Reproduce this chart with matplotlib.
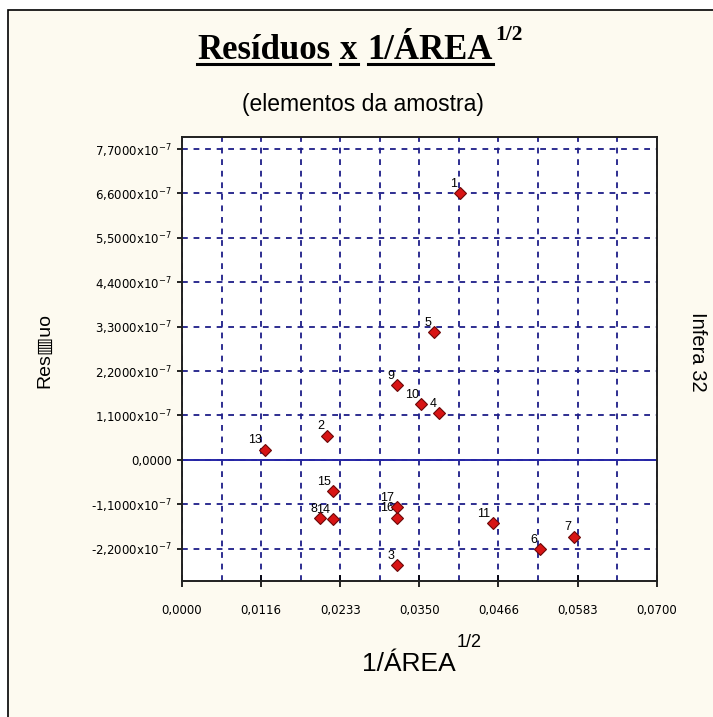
import matplotlib.pyplot as plt
import matplotlib.patches as mpatches
from matplotlib.lines import Line2D
from matplotlib.ticker import FixedLocator
import numpy as np

plt.rcParams['font.family'] = ['Liberation Sans', 'DejaVu Sans']

# elementos da amostra: 1/AREA^(1/2) x residuo
elementos = ['1', '2', '3', '4', '5', '6', '7', '8', '9', '10', '11', '13', '14', '15', '16', '17']
inv_raiz_area = [0.0410, 0.0214, 0.0317, 0.0379, 0.0372, 0.0528, 0.0578, 0.0203,
                 0.0317, 0.0353, 0.0459, 0.0122, 0.0223, 0.0223, 0.0317, 0.0317]
residuos = [6.60e-7, 0.60e-7, -2.61e-7, 1.15e-7, 3.17e-7, -2.22e-7, -1.90e-7, -1.45e-7,
            1.85e-7, 1.38e-7, -1.56e-7, 0.25e-7, -1.47e-7, -0.77e-7, -1.43e-7, -1.18e-7]

x_ticks = [0.0, 0.07 / 6, 0.07 / 3, 0.035, 0.14 / 3, 0.35 / 6, 0.07]
x_tick_labels = ['0,0000', '0,0116', '0,0233', '0,0350', '0,0466', '0,0583', '0,0700']
y_ticks = [-2.2e-7, -1.1e-7, 0.0, 1.1e-7, 2.2e-7, 3.3e-7, 4.4e-7, 5.5e-7, 6.6e-7, 7.7e-7]

W, H = 713, 717
creme = '#fdfaf0'
azul = '#1e1e88'

fig = plt.figure(figsize=(W / 100, H / 100), dpi=100, facecolor='white')

# moldura do grafico
fig.patches.append(mpatches.Rectangle((8 / W, -0.05), 1.2, 1 - 10 / H + 0.05,
                                      transform=fig.transFigure, facecolor=creme,
                                      edgecolor='black', lw=1.2, zorder=-10))

ax = fig.add_axes([182 / W, 1 - 580.5 / H, (656.7 - 182) / W, (580.5 - 137.3) / H])
ax.set_facecolor('white')
ax.set_xlim(0, 0.07)
ax.set_ylim(-2.99e-7, 7.99e-7)

ax.xaxis.set_major_locator(FixedLocator(x_ticks))
ax.set_xticklabels(x_tick_labels)
ax.xaxis.set_minor_locator(FixedLocator([v + 0.07 / 12 for v in x_ticks[:-1]]))
ax.yaxis.set_major_locator(FixedLocator(y_ticks))
ax.set_yticklabels(['0,0000' if v == 0 else
                    ('%.4f' % (v * 1e7)).replace('.', ',') + 'x10$^{-7}$' for v in y_ticks])

ax.tick_params(axis='x', which='major', direction='inout', length=8.5, width=1.2,
               pad=12.5, labelsize=8.5, colors='black')
ax.tick_params(axis='x', which='minor', length=0)
ax.tick_params(axis='y', direction='out', length=3.5, width=1.2, pad=4,
               labelsize=8.5, colors='black')
for lab in ax.get_xticklabels() + ax.get_yticklabels():
    lab.set_family('DejaVu Sans')

grid_kw = dict(color=azul, lw=1.3, linestyle=(0, (3.2, 3.2)))
ax.grid(True, which='both', axis='x', **grid_kw)
ax.grid(True, which='major', axis='y', **grid_kw)
ax.set_axisbelow(True)
ax.axhline(0, color='#2626a6', lw=1.4, zorder=1.5)

for s in ax.spines.values():
    s.set_linewidth(1.4)
    s.set_color('#202020')

ax.plot(inv_raiz_area, residuos, 'D', ms=6, mfc='#d81414', mec='#6a0808', mew=0.8,
        zorder=3, clip_on=False)
for nome, xv, yv in zip(elementos, inv_raiz_area, residuos):
    ax.annotate(nome, (xv, yv), xytext=(-2, 4.5), textcoords='offset points',
                ha='right', va='baseline', fontsize=9, color='black', zorder=2)

# titulo com palavras sublinhadas
fig.canvas.draw()
r = fig.canvas.get_renderer()
x0 = 197
for parte in ['Resíduos', 'x', '1/ÁREA']:
    t = fig.text(x0 / W, 1 - 59 / H, parte, fontsize=25, weight='bold',
                 family='Liberation Serif', ha='left', va='baseline')
    bb = t.get_window_extent(r)
    fig.add_artist(Line2D([bb.x0 / W, bb.x1 / W], [1 - 63.5 / H] * 2, color='black',
                          lw=2.2, transform=fig.transFigure))
    x0 = bb.x1 + 10
fig.text((bb.x1 + 2) / W, 1 - 40 / H, '1/2', fontsize=15.5, weight='bold',
         family='Liberation Serif', ha='left', va='baseline')

fig.text(363 / W, 1 - 104 / H, '(elementos da amostra)', fontsize=16.5,
         ha='center', va='center')

t = fig.text(362 / W, 1 - 671 / H, '1/ÁREA', fontsize=19, ha='left', va='baseline')
bb = t.get_window_extent(r)
fig.text((bb.x1 + 1) / W, 1 - 647 / H, '1/2', fontsize=13, ha='left', va='baseline')

fig.text(45 / W, 1 - 350 / H, 'Res\u25a5uo', fontsize=14, rotation=90,
         ha='center', va='center', family=['Liberation Sans', 'DejaVu Sans'])
fig.text(697 / W, 1 - 352 / H, 'Infera 32', fontsize=14.5, rotation=-90,
         ha='center', va='center')

fig.savefig('out.png', dpi=100, facecolor=fig.get_facecolor())
